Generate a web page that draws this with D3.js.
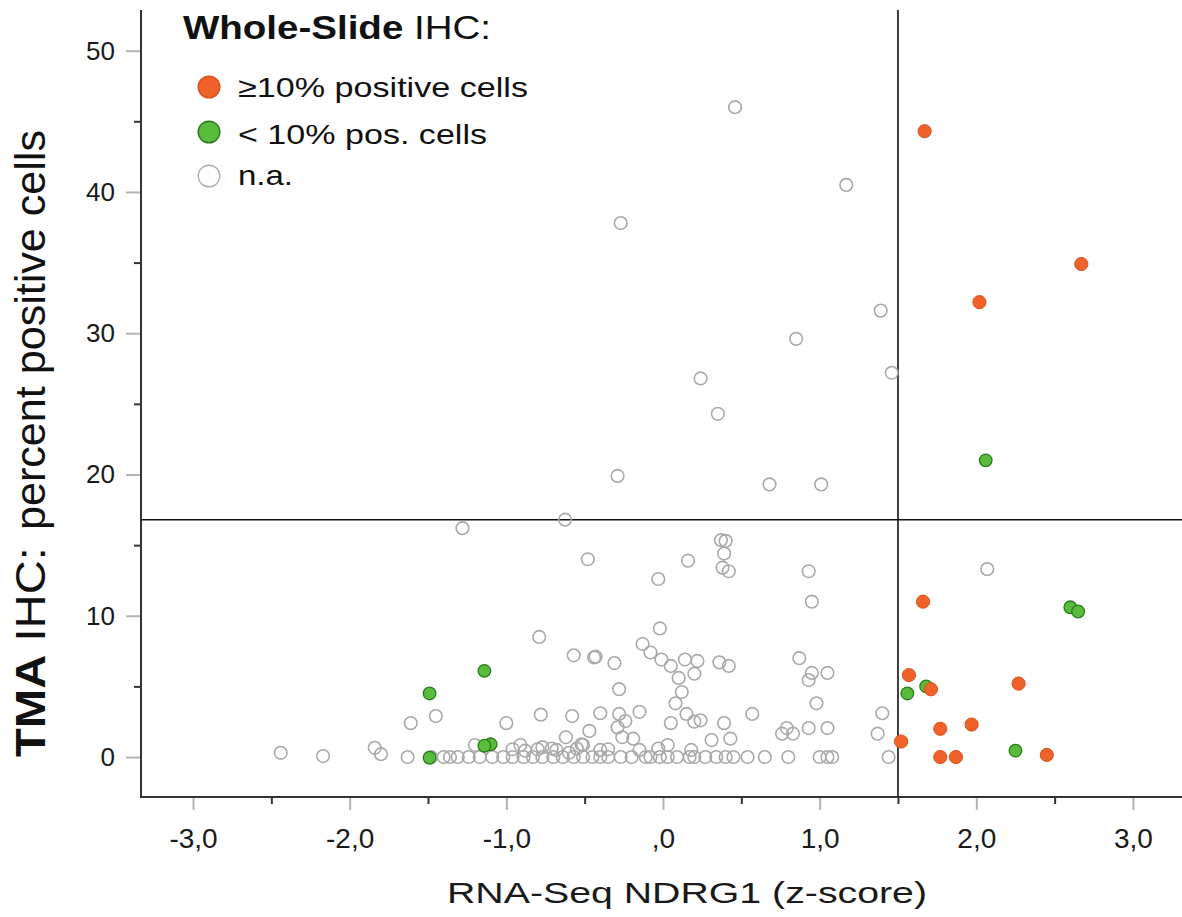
<!DOCTYPE html>
<html>
<head>
<meta charset="utf-8">
<script src="https://cdn.jsdelivr.net/npm/d3@7"></script>
<style>
  html, body { margin: 0; padding: 0; background: #fff; }
  svg { display: block; font-family: "Liberation Sans", Arial, Helvetica, sans-serif; }
</style>
</head>
<body>
<svg id="chart" width="1182" height="917"></svg>
<script>
// ---- data ----
const orangeZ   = [1.67, 2.67, 2.02, 1.66, 1.57, 1.71, 2.27, 1.77, 1.97, 1.52, 1.77, 1.87, 2.45];
const orangePct = [44.3, 34.9, 32.2, 11.0, 5.8, 4.8, 5.2, 2.0, 2.3, 1.1, 0.0, 0.0, 0.15];

const greenZ   = [2.06, 2.60, 2.65, 1.68, 1.56, 2.25, -1.14, -1.49, -1.10, -1.14, -1.49];
const greenPct = [21.0, 10.6, 10.3, 5.0, 4.5, 0.45, 6.1, 4.5, 0.9, 0.8, -0.05];

const grayZ = [
  0.46, 1.17, -0.27, 1.39, 0.85, 1.46, 0.24, 0.35, -0.29, 0.68, 1.01, -1.28, -0.625, 2.07,
  -0.48, 0.16, -0.03, 0.37, 0.40, 0.39, 0.38, 0.42, 0.93, 0.95, -0.02, -0.13, -0.08, -0.01,
  0.05, 0.14, 0.22, 0.20, 0.10, 0.12, 0.08, -0.43, -0.31, -0.28, -0.57, 0.36, 0.42, 0.87,
  0.95, 0.93, 1.05, 0.98, -0.79,
  -0.40, -0.28, -0.15, -0.24, -0.29, -0.26, -0.19, -0.47, 0.05, 0.15, 0.20, 0.24, 0.39, 0.57,
  0.31, 0.43, 0.76, 0.79, 0.83, 0.93, 1.05, 1.40, 1.37, -2.44, -2.17, -1.84, -1.80, -1.61,
  -1.45, -1.00, -0.78, -0.58, -0.44, -0.62, -0.52, -0.91, -0.77, -0.68, -1.20, 0.03, -0.51,
  -1.63, -1.48, -1.40, -1.36, -1.31, -1.24, -1.17, -1.09, -1.02, -0.96, -0.89, -0.83, -0.77,
  -0.70, -0.64, -0.57, -0.51, -0.45,
  -0.40, -0.35, -0.27, -0.20, -0.11, -0.08, -0.02, 0.03, 0.09, 0.17, 0.20, 0.27, 0.34, 0.40,
  0.45, 0.54, 0.65, 0.80, 1.00, 1.05, 1.08, 1.44,
  -0.35, -0.40, -0.15, -0.03, 0.18, -0.96, -0.80, -0.71, -0.55, -0.88, -0.60
];
const grayPct = [
  46.0, 40.5, 37.8, 31.6, 29.6, 27.2, 26.8, 24.3, 19.9, 19.3, 19.3, 16.2, 16.8, 13.3,
  14.0, 13.9, 12.6, 15.35, 15.3, 14.4, 13.4, 13.15, 13.15, 11.0, 9.1, 8.0, 7.4, 6.9,
  6.45, 6.9, 6.8, 5.9, 5.6, 4.6, 3.8, 7.1, 6.65, 4.8, 7.2, 6.7, 6.45, 7.0,
  5.95, 5.45, 5.95, 3.8, 8.5,
  3.1, 3.05, 3.2, 2.55, 2.1, 1.4, 1.3, 1.85, 2.4, 3.05, 2.5, 2.6, 2.4, 3.05,
  1.2, 1.3, 1.65, 2.05, 1.65, 2.05, 2.05, 3.1, 1.65, 0.3, 0.07, 0.65, 0.2, 2.4,
  2.9, 2.4, 3.0, 2.9, 7.05, 1.4, 0.9, 0.85, 0.7, 0.5, 0.85, 0.85, 0.85,
  0.0, 0.0, 0.0, 0.0, 0.0, 0.0, 0.0, 0.0, 0.0, 0.0, 0.0, 0.0, 0.0,
  0.0, 0.0, 0.0, 0.0, 0.0,
  0.0, 0.0, 0.0, 0.0, 0.0, 0.0, 0.0, 0.0, 0.0, 0.0, 0.0, 0.0, 0.0, 0.0,
  0.0, 0.0, 0.0, 0.0, 0.0, 0.0, 0.0, 0.0,
  0.55, 0.5, 0.5, 0.6, 0.5, 0.55, 0.55, 0.6, 0.6, 0.45, 0.3
];

const xTickValues = [-3, -2, -1, 0, 1, 2, 3];
const xTickLabels = ["-3,0", "-2,0", "-1,0", ",0", "1,0", "2,0", "3,0"];
const xMinorTicks = [-2.5, -1.5, -0.5, 0.5, 1.5, 2.5];
const yTickValues = [0, 10, 20, 30, 40, 50];
const yMinorTicks = [5, 15, 25, 35, 45];
const zCutoff = 1.5;
const pctCutoff = 16.8;

const legendLabels = ["\u226510% positive cells", "< 10% pos. cells", "n.a."];

// ---- layout ----
const svg = d3.select("#chart");
const x = d3.scaleLinear().domain([-3.332, 3.313]).range([141, 1182]);
const y = d3.scaleLinear().domain([-2.83, 52.88]).range([797, 10]);

const colOrange = "#f0622a", colOrangeStroke = "#d4531c";
const colGreen = "#58bd3a", colGreenStroke = "#2c7a1e";
const colGray = "#a9a9a9";

// axes: major ticks (gray) + minor ticks (dark)
const gx = svg.append("g").attr("transform", "translate(0,797)");
gx.call(d3.axisBottom(x).tickValues(xTickValues).tickSize(13).tickFormat((d, i) => xTickLabels[i]));
gx.select(".domain").remove();
gx.selectAll(".tick line").attr("stroke", "#b3b3b3").attr("stroke-width", 2);
gx.selectAll(".tick text").attr("font-size", 28).attr("fill", "#1a1a1a").attr("dy", 0).attr("y", 51)
  .attr("font-family", "'Liberation Sans', Arial, sans-serif");
const gxm = svg.append("g").attr("transform", "translate(0,797)");
gxm.call(d3.axisBottom(x).tickValues(xMinorTicks).tickSize(7).tickFormat(""));
gxm.select(".domain").remove();
gxm.selectAll(".tick line").attr("stroke", "#333").attr("stroke-width", 2);

const gy = svg.append("g").attr("transform", "translate(141,0)");
gy.call(d3.axisLeft(y).tickValues(yTickValues).tickSize(15).tickFormat(d3.format("d")));
gy.select(".domain").remove();
gy.selectAll(".tick line").attr("stroke", "#b3b3b3").attr("stroke-width", 2);
gy.selectAll(".tick text").attr("font-size", 26).attr("fill", "#1a1a1a").attr("x", -26)
  .attr("font-family", "'Liberation Sans', Arial, sans-serif");
const gym = svg.append("g").attr("transform", "translate(141,0)");
gym.call(d3.axisLeft(y).tickValues(yMinorTicks).tickSize(7).tickFormat(""));
gym.select(".domain").remove();
gym.selectAll(".tick line").attr("stroke", "#333").attr("stroke-width", 2);

// axis lines
svg.append("line").attr("x1", 141).attr("x2", 141).attr("y1", y.range()[1]).attr("y2", 798)
  .attr("stroke", "#333").attr("stroke-width", 2);
svg.append("line").attr("x1", 140).attr("x2", 1182).attr("y1", 797).attr("y2", 797)
  .attr("stroke", "#333").attr("stroke-width", 2);

// cutoff lines
svg.append("line").attr("x1", x(zCutoff)).attr("x2", x(zCutoff)).attr("y1", y.range()[1]).attr("y2", 797)
  .attr("stroke", "#111").attr("stroke-width", 1.6);
svg.append("line").attr("x1", 141).attr("x2", 1182).attr("y1", y(pctCutoff)).attr("y2", y(pctCutoff))
  .attr("stroke", "#111").attr("stroke-width", 1.6);

// points
const grayData = grayZ.map((z, i) => [z, grayPct[i]]);
const greenData = greenZ.map((z, i) => [z, greenPct[i]]);
const orangeData = orangeZ.map((z, i) => [z, orangePct[i]]);

svg.append("g").selectAll("circle").data(grayData).join("circle")
  .attr("cx", d => x(d[0])).attr("cy", d => y(d[1])).attr("r", 6.3)
  .attr("fill", "none").attr("stroke", colGray).attr("stroke-width", 1.6);
svg.append("g").selectAll("circle").data(greenData).join("circle")
  .attr("cx", d => x(d[0])).attr("cy", d => y(d[1])).attr("r", 6.3)
  .attr("fill", colGreen).attr("stroke", colGreenStroke).attr("stroke-width", 1.3);
svg.append("g").selectAll("circle").data(orangeData).join("circle")
  .attr("cx", d => x(d[0])).attr("cy", d => y(d[1])).attr("r", 6.6)
  .attr("fill", colOrange).attr("stroke", colOrangeStroke).attr("stroke-width", 1);

// axis titles
svg.append("text").attr("x", 687).attr("y", 903).attr("text-anchor", "middle")
  .attr("font-size", 30).attr("fill", "#1a1a1a")
  .attr("textLength", 480).attr("lengthAdjust", "spacingAndGlyphs")
  .text("RNA-Seq NDRG1 (z-score)");

const yt1 = svg.append("text").attr("transform", "translate(45,757) rotate(-90)")
  .attr("text-anchor", "start").attr("font-size", 42).attr("fill", "#111")
  .attr("textLength", 210).attr("lengthAdjust", "spacingAndGlyphs");
yt1.append("tspan").attr("font-weight", "bold").text("TMA");
yt1.append("tspan").text(" IHC:");
svg.append("text").attr("transform", "translate(45,530) rotate(-90)")
  .attr("text-anchor", "start").attr("font-size", 42).attr("fill", "#111")
  .attr("textLength", 400).attr("lengthAdjust", "spacingAndGlyphs")
  .text("percent positive cells");

// legend
const lt = svg.append("text").attr("x", 183).attr("y", 39).attr("font-size", 33).attr("fill", "#111")
  .attr("textLength", 308).attr("lengthAdjust", "spacingAndGlyphs");
lt.append("tspan").attr("font-weight", "bold").text("Whole-Slide");
lt.append("tspan").text(" IHC:");

const legendY = [87, 132, 176];
const legendBase = [97, 144, 185];
const legendLen = [290, 249, 55];
const legendFill = [colOrange, colGreen, "#fff"];
const legendStroke = [colOrangeStroke, colGreenStroke, "#b0b0b0"];
legendLabels.forEach((lab, i) => {
  svg.append("circle").attr("cx", 209).attr("cy", legendY[i]).attr("r", 10.8)
    .attr("fill", legendFill[i]).attr("stroke", legendStroke[i]).attr("stroke-width", 1.4);
  svg.append("text").attr("x", 238).attr("y", legendBase[i]).attr("font-size", 28).attr("fill", "#111")
    .attr("textLength", legendLen[i]).attr("lengthAdjust", "spacingAndGlyphs").text(lab);
});
</script>
</body>
</html>
